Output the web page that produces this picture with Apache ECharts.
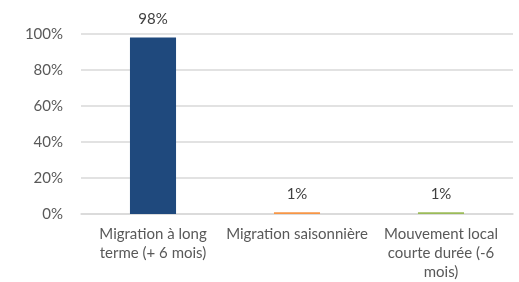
<!DOCTYPE html>
<html>
<head>
<meta charset="utf-8">
<script src="https://cdn.jsdelivr.net/npm/echarts@6/dist/echarts.min.js"></script>
<style>
  html, body { margin: 0; padding: 0; background: #fff; }
  #chart { width: 519px; height: 282px; }
</style>
</head>
<body>
<div id="chart"></div>
<script>
// données
const categories = [
  "Migration à long\nterme (+ 6 mois)",
  "Migration saisonnière",
  "Mouvement local\ncourte durée (-6\nmois)"
];
const values = [98, 1, 1];
const barColors = ["#1F497D", "#F79646", "#9BBB59"];
const yTicks = [0, 20, 40, 60, 80, 100];

const chart = echarts.init(document.getElementById("chart"));

const option = {
  animation: false,
  textStyle: { fontFamily: "Lato", color: "#595959" },
  grid: { left: 81, right: 6, top: 34, bottom: 67 },
  xAxis: {
    type: "category",
    data: categories,
    axisLine: { lineStyle: { color: "#d9d9d9", width: 1.5 } },
    axisTick: { show: false },
    axisLabel: {
      color: "#595959",
      fontSize: 15,
      lineHeight: 19,
      margin: 11,
      interval: 0
    }
  },
  yAxis: {
    type: "value",
    min: yTicks[0],
    max: yTicks[yTicks.length - 1],
    interval: 20,
    axisLine: { show: false },
    axisTick: { show: false },
    axisLabel: {
      color: "#595959",
      fontSize: 15,
      margin: 18,
      formatter: "{value}%"
    },
    splitLine: { lineStyle: { color: "#d9d9d9", width: 1.5 } }
  },
  series: [
    {
      type: "bar",
      barWidth: "32%",
      data: values.map((v, i) => ({ value: v, itemStyle: { color: barColors[i] } })),
      label: {
        show: true,
        position: "top",
        distance: 11,
        color: "#404040",
        fontSize: 15,
        formatter: "{c}%"
      }
    }
  ]
};

chart.setOption(option);
</script>
</body>
</html>
